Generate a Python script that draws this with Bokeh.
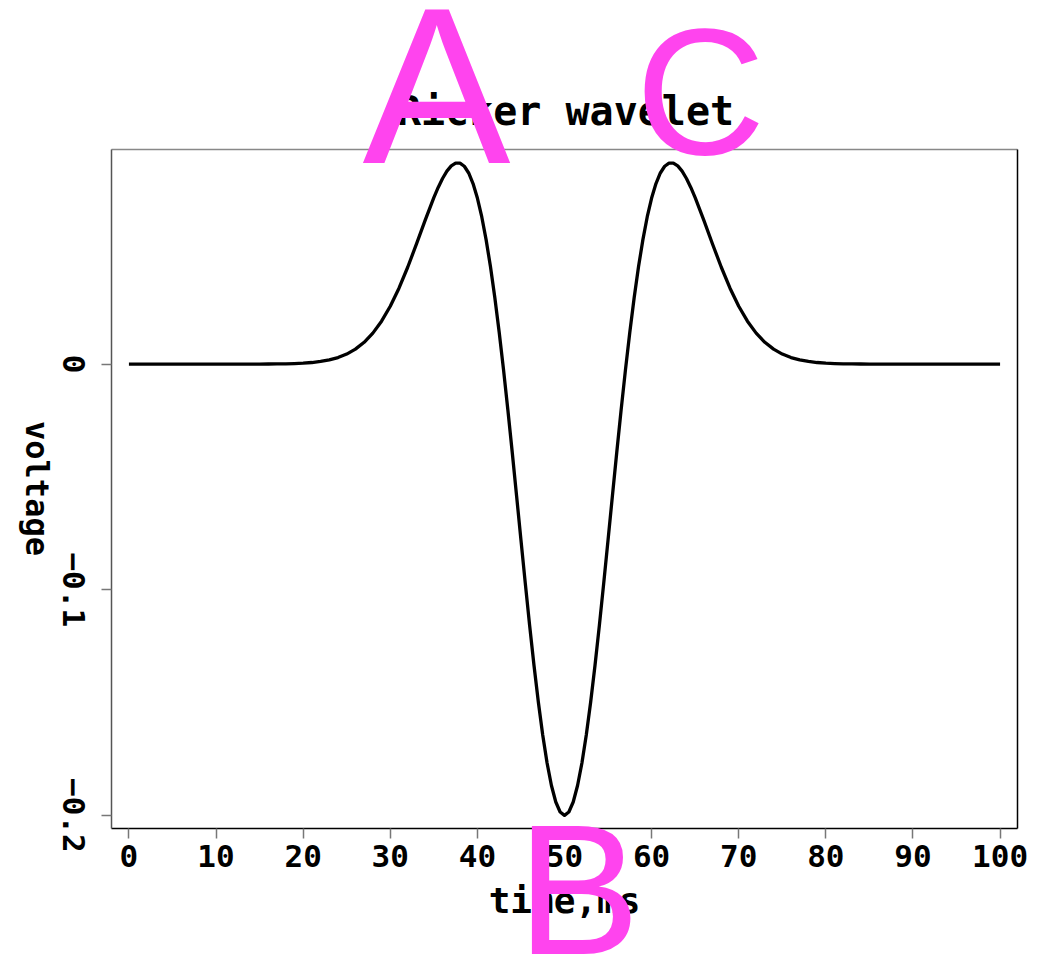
import math
from bokeh.plotting import figure
from bokeh.models import Label, FixedTicker, LinearAxis, Range1d
from bokeh.embed import file_html
from bokeh.resources import INLINE

# ---- data ----
time_ms = [
    0, 1, 2, 3, 4, 5, 6, 7, 8, 9, 10, 11, 12, 13, 14, 15, 16, 17, 18, 19,
    20, 21, 22, 23, 24, 25, 26, 27, 28, 29, 30, 31, 32, 33, 34,
    35, 35.5, 36, 36.5, 37, 37.5, 38, 38.5, 39, 39.5, 40, 40.5, 41, 41.5,
    42, 42.5, 43, 43.5, 44, 44.5, 45, 45.5, 46, 46.5, 47, 47.5, 48, 48.5,
    49, 49.5, 50, 50.5, 51, 51.5, 52, 52.5, 53, 53.5, 54, 54.5, 55, 55.5,
    56, 56.5, 57, 57.5, 58, 58.5, 59, 59.5, 60, 60.5, 61, 61.5, 62, 62.5,
    63, 63.5, 64, 64.5, 65,
    66, 67, 68, 69, 70, 71, 72, 73, 74, 75, 76, 77, 78, 79, 80, 81, 82, 83,
    84, 85, 86, 87, 88, 89, 90, 91, 92, 93, 94, 95, 96, 97, 98, 99, 100,
]
voltage = [
    0.0, 0.0, 0.0, 0.0, 0.0, 0.0, 0.0, 0.0, 0.0, 0.0, 0.0, 0.0, 0.0, 0.0,
    0.0, 0.0, 0.00004, 0.00008, 0.00014, 0.00024,
    0.00042, 0.00070, 0.00116, 0.00185, 0.00290, 0.00444, 0.00663, 0.00966,
    0.01373, 0.01901, 0.02564, 0.03365, 0.04292, 0.05313, 0.06370,
    0.07378, 0.07830, 0.08226, 0.08550, 0.08783, 0.08908, 0.08909, 0.08767,
    0.08469, 0.08002, 0.07358, 0.06530, 0.05516, 0.04321,
    0.02953, 0.01424, -0.00245, -0.02032, -0.03907, -0.05838, -0.07788,
    -0.09719, -0.11589, -0.13359, -0.14988, -0.16440, -0.17679, -0.18675,
    -0.19405, -0.19850, -0.20000, -0.19850, -0.19405, -0.18675, -0.17679,
    -0.16440, -0.14988, -0.13359, -0.11589, -0.09719, -0.07788, -0.05838,
    -0.03907, -0.02032, -0.00245, 0.01424, 0.02953, 0.04321, 0.05516,
    0.06530, 0.07358, 0.08002, 0.08469, 0.08767, 0.08909, 0.08908,
    0.08783, 0.08550, 0.08226, 0.07830, 0.07378,
    0.06370, 0.05313, 0.04292, 0.03365, 0.02564, 0.01901, 0.01373, 0.00966,
    0.00663, 0.00444, 0.00290, 0.00185, 0.00116, 0.00070, 0.00042, 0.00024,
    0.00014, 0.00008, 0.00004, 0.0,
    0.0, 0.0, 0.0, 0.0, 0.0, 0.0, 0.0, 0.0, 0.0, 0.0, 0.0, 0.0, 0.0, 0.0, 0.0,
]
x_ticks = [0, 10, 20, 30, 40, 50, 60, 70, 80, 90, 100]
y_ticks = [-0.2, -0.1, 0]
y_tick_labels = ["\u22120.2", "\u22120.1", "0"]
title_text = "Ricker wavelet"
x_label = "time,ms"
y_label = "voltage"
marks = ["A", "B", "C"]

# ---- layout (pixel geometry of the inner plot box) ----
W, H = 1055, 963
X0, X1 = -2, 102
Y0, Y1 = -0.2058, 0.0951
FL, FT, FW, FH = 111, 149, 906, 679


def px_x(px):
    return X0 + (px - FL) * (X1 - X0) / FW


def px_y(py):
    return Y1 - (py - FT) * (Y1 - Y0) / FH


FONT = "DejaVu Sans Mono"

# the drawing area covers the whole page; axes are pinned to the box edges
p = figure(
    frame_width=W, frame_height=H,
    x_range=Range1d(px_x(0), px_x(W)), y_range=Range1d(px_y(H), px_y(0)),
    output_backend="svg", toolbar_location=None,
    min_border=0,
)
p.grid.visible = False
p.outline_line_color = None
p.background_fill_color = "white"
p.border_fill_color = "white"

p.line(time_ms, voltage, line_color="black", line_width=3.3, line_join="round")

xa = p.xaxis[0]
xa.fixed_location = Y0
xa.bounds = (X0, X1)
xa.ticker = FixedTicker(ticks=x_ticks)
xa.major_label_text_font = FONT
xa.major_label_text_font_style = "bold"
xa.major_label_text_font_size = "31px"
xa.major_label_text_color = "black"
xa.major_label_standoff = 6
xa.major_tick_in = 0
xa.major_tick_out = 10
xa.major_tick_line_color = "#777777"
xa.major_tick_line_width = 1.5
xa.minor_tick_line_color = None
xa.axis_line_color = "black"
xa.axis_line_width = 1.5

ya = p.yaxis[0]
ya.fixed_location = X0
ya.bounds = (Y0, Y1)
ya.ticker = FixedTicker(ticks=y_ticks)
ya.major_label_overrides = {v: "" for v in y_ticks}
ya.major_tick_in = 0
ya.major_tick_out = 10
ya.major_tick_line_color = "#777777"
ya.major_tick_line_width = 1.5
ya.minor_tick_line_color = None
ya.axis_line_color = "#555555"
ya.axis_line_width = 1.5

for side, loc, bnds, col in (("right", X1, (Y0, Y1), "black"),
                             ("above", Y1, (X0, X1), "#888888")):
    ax = LinearAxis(ticker=FixedTicker(ticks=[]), fixed_location=loc, bounds=bnds,
                    axis_line_color=col, axis_line_width=1.5,
                    major_tick_line_color=None, minor_tick_line_color=None)
    p.add_layout(ax, side)

# y tick labels, rotated clockwise and centred on their ticks
for v, txt in zip(y_ticks, y_tick_labels):
    p.add_layout(Label(x=px_x(73), y=v, text=txt, angle=-math.pi / 2,
                       text_font=FONT, text_font_style="bold", text_font_size="31px",
                       text_align="center", text_baseline="middle", text_color="black"))

p.add_layout(Label(x=px_x(565), y=px_y(110), text=title_text,
                   text_font=FONT, text_font_style="bold", text_font_size="40px",
                   text_align="center", text_baseline="alphabetic", text_color="black"))
p.add_layout(Label(x=px_x(564), y=px_y(900), text=x_label,
                   text_font=FONT, text_font_style="bold", text_font_size="36px",
                   text_align="center", text_baseline="alphabetic", text_color="black"))
p.add_layout(Label(x=px_x(36), y=px_y(488), text=y_label, angle=-math.pi / 2,
                   text_font=FONT, text_font_style="bold", text_font_size="32px",
                   text_align="center", text_baseline="alphabetic", text_color="black"))

MAG = "#ff44ee"
for t, cx, base, size in ((marks[0], 436, 85, "222px"),
                          (marks[1], 578, 889, "185px"),
                          (marks[2], 700, 91, "180px")):
    p.add_layout(Label(x=px_x(cx), y=px_y(base), text=t, text_font="Liberation Sans",
                       text_font_size=size, text_align="center",
                       text_baseline="alphabetic", text_color=MAG))

open("out.html", "w").write(file_html(p, INLINE))
